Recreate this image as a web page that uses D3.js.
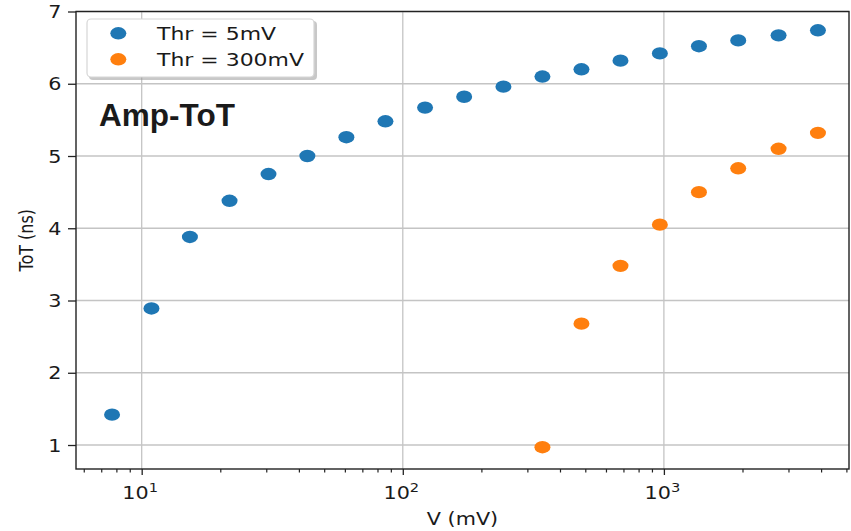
<!DOCTYPE html>
<html>
<head>
<meta charset="utf-8">
<script src="https://cdn.jsdelivr.net/npm/d3@7"></script>
<style>
  html, body { margin: 0; padding: 0; background: #fff; }
  svg { display: block; }
  text { font-family: "DejaVu Sans", sans-serif; fill: #1a1a1a; }
</style>
</head>
<body>
<svg id="chart" width="851" height="531"></svg>
<script>
// Amplitude vs time-over-threshold, two threshold settings
const voltage5 = [7.7, 10.9, 15.3, 21.7, 30.6, 43.1, 60.8, 85.8, 121.7, 171.8,
                  242.9, 342.6, 483.4, 681.9, 965, 1362, 1926, 2749, 3890];
const tot5     = [1.42, 2.89, 3.88, 4.38, 4.75, 5.00, 5.26, 5.48, 5.67, 5.82,
                  5.96, 6.10, 6.20, 6.32, 6.42, 6.52, 6.60, 6.67, 6.74];
const voltage300 = [342.6, 483.4, 681.9, 965, 1362, 1926, 2749, 3890];
const tot300     = [0.97, 2.68, 3.48, 4.05, 4.50, 4.83, 5.10, 5.32];

const seriesNames = ["Thr = 5mV", "Thr = 300mV"];
const seriesColors = ["#1f77b4", "#ff7f0e"];

const xMajorTicks = [10, 100, 1000];
const xMinorTicks = [6, 7, 8, 9, 20, 30, 40, 50, 60, 70, 80, 90,
                     200, 300, 400, 500, 600, 700, 800, 900, 2000, 3000, 4000, 5000];
const yTicks = [1, 2, 3, 4, 5, 6, 7];

const xLabel = "V (mV)";
const yLabel = "ToT (ns)";
const panelTag = "Amp-ToT";

// layout
const plot = { left: 76, right: 849, top: 11.5, bottom: 469 };
const stretch = 1.22;   // glyphs are drawn wider than tall
const fontSize = 17;

const svg = d3.select("#chart");

const x = d3.scaleLog().domain([5.603, 5116]).range([plot.left, plot.right]);
const y = d3.scaleLinear().domain([0.668, 7.0]).range([plot.bottom, plot.top]);

// grid
const grid = svg.append("g").attr("stroke", "#c4c4c4").attr("stroke-width", 1.3);
grid.selectAll("line.gx").data(xMajorTicks).join("line")
  .attr("x1", d => x(d)).attr("x2", d => x(d))
  .attr("y1", plot.top).attr("y2", plot.bottom);
grid.selectAll("line.gy").data(yTicks).join("line")
  .attr("x1", plot.left).attr("x2", plot.right)
  .attr("y1", d => y(d)).attr("y2", d => y(d));

// x axis: minor ticks
svg.append("g")
  .attr("transform", `translate(0,${plot.bottom})`)
  .call(d3.axisBottom(x).tickValues(xMinorTicks).tickSize(3.5).tickFormat(""))
  .call(g => g.select(".domain").remove())
  .call(g => g.selectAll(".tick line").attr("stroke", "#222").attr("stroke-width", 1.2));

// x axis: major ticks with power-of-ten labels
const xAxis = svg.append("g")
  .attr("transform", `translate(0,${plot.bottom})`)
  .call(d3.axisBottom(x).tickValues(xMajorTicks).tickSize(6).tickPadding(0).tickFormat(""))
  .call(g => g.select(".domain").remove())
  .call(g => g.selectAll(".tick line").attr("stroke", "#222").attr("stroke-width", 1.3));
xAxis.selectAll(".tick").each(function(d) {
  const t = d3.select(this).append("text")
    .attr("transform", `translate(-2,30) scale(${stretch},1)`)
    .attr("text-anchor", "middle")
    .style("font-size", fontSize + "px")
    .attr("fill", "#1a1a1a");
  t.append("tspan").text("10");
  t.append("tspan").attr("dy", -7).style("font-size", "12px").text(Math.round(Math.log10(d)));
});

// y axis
const yAxis = svg.append("g")
  .attr("transform", `translate(${plot.left},0)`)
  .call(d3.axisLeft(y).tickValues(yTicks).tickSize(8).tickFormat(""))
  .call(g => g.select(".domain").remove())
  .call(g => g.selectAll(".tick line").attr("stroke", "#222").attr("stroke-width", 1.3));
yAxis.selectAll(".tick").append("text")
  .attr("transform", `translate(-14.5,6) scale(${stretch},1)`)
  .attr("text-anchor", "end")
  .style("font-size", fontSize + "px")
  .attr("fill", "#1a1a1a")
  .text(d => d);

// frame
svg.append("rect")
  .attr("x", plot.left).attr("y", plot.top)
  .attr("width", plot.right - plot.left).attr("height", plot.bottom - plot.top)
  .attr("fill", "none").attr("stroke", "#222").attr("stroke-width", 1.4);

// axis labels
svg.append("text")
  .attr("transform", `translate(${(plot.left + plot.right) / 2},525) scale(${stretch},1)`)
  .attr("text-anchor", "middle")
  .style("font-size", fontSize + "px")
  .text(xLabel);
svg.append("text")
  .attr("transform", `translate(33,${(plot.top + plot.bottom) / 2}) scale(${stretch},1) rotate(-90)`)
  .attr("text-anchor", "middle")
  .style("font-size", "16px")
  .text(yLabel);

// scatter points
const series = [
  { xs: voltage5, ys: tot5 },
  { xs: voltage300, ys: tot300 }
];
series.forEach((s, i) => {
  svg.append("g").selectAll("ellipse")
    .data(d3.zip(s.xs, s.ys)).join("ellipse")
    .attr("cx", d => x(d[0])).attr("cy", d => y(d[1]))
    .attr("rx", 8).attr("ry", 6.2)
    .attr("fill", seriesColors[i]);
});

// legend
const lg = svg.append("g");
lg.append("rect")
  .attr("x", 89).attr("y", 21).attr("width", 228).attr("height", 59).attr("rx", 4)
  .attr("fill", "#9a9a9a").attr("opacity", 0.55);
lg.append("rect")
  .attr("x", 87).attr("y", 19).attr("width", 227).attr("height", 58).attr("rx", 4)
  .attr("fill", "#fff").attr("stroke", "#d6d6d6").attr("stroke-width", 1.2);
seriesNames.forEach((name, i) => {
  const cy = 33.3 + i * 26;
  lg.append("ellipse").attr("cx", 118.3).attr("cy", cy).attr("rx", 8).attr("ry", 6.2)
    .attr("fill", seriesColors[i]);
  lg.append("text")
    .attr("transform", `translate(157,${cy + 6.5}) scale(${stretch},1)`)
    .style("font-size", "18px")
    .text(name);
});

// panel tag
svg.append("text")
  .attr("x", 99).attr("y", 126)
  .style("font-family", "'Liberation Sans', Arial, sans-serif")
  .style("font-weight", "bold")
  .style("font-size", "31.5px")
  .attr("fill", "#000")
  .text(panelTag);
</script>
</body>
</html>
